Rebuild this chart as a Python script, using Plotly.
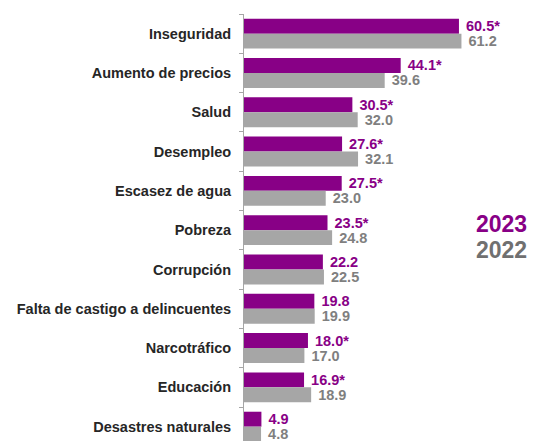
import plotly.graph_objects as go

categories = ["Inseguridad", "Aumento de precios", "Salud", "Desempleo", "Escasez de agua",
              "Pobreza", "Corrupción", "Falta de castigo a delincuentes", "Narcotráfico",
              "Educación", "Desastres naturales"]
values_2023 = [60.5, 44.1, 30.5, 27.6, 27.5, 23.5, 22.2, 19.8, 18.0, 16.9, 4.9]
labels_2023 = ["60.5*", "44.1*", "30.5*", "27.6*", "27.5*", "23.5*", "22.2", "19.8", "18.0*", "16.9*", "4.9"]
values_2022 = [61.2, 39.6, 32.0, 32.1, 23.0, 24.8, 22.5, 19.9, 17.0, 18.9, 4.8]
labels_2022 = ["61.2", "39.6", "32.0", "32.1", "23.0", "24.8", "22.5", "19.9", "17.0", "18.9", "4.8"]

PURPLE = "#880086"
GRAY_BAR = "#A6A6A6"
GRAY_TXT = "#7F7F7F"
FONT = "Liberation Sans, Arial, sans-serif"

fig = go.Figure()
fig.add_trace(go.Bar(
    y=categories, x=values_2023, orientation="h", name="2023",
    marker=dict(color=PURPLE, line=dict(width=0)),
    text=labels_2023, texttemplate=" %{text}", textposition="outside",
    textfont=dict(color=PURPLE, size=14.5, family=FONT, weight="bold"),
    constraintext="none", cliponaxis=False,
))
fig.add_trace(go.Bar(
    y=categories, x=values_2022, orientation="h", name="2022",
    marker=dict(color=GRAY_BAR, line=dict(width=0)),
    text=labels_2022, texttemplate=" %{text}", textposition="outside",
    textfont=dict(color=GRAY_TXT, size=14.5, family=FONT, weight="bold"),
    constraintext="none", cliponaxis=False,
))

fig.update_layout(
    width=535, height=441,
    margin=dict(l=244, r=0, t=14, b=0),
    barmode="group", bargap=0.24, bargroupgap=0,
    paper_bgcolor="white", plot_bgcolor="white",
    showlegend=False,
    font=dict(family=FONT),
    xaxis=dict(range=[0, 81.9], visible=False, fixedrange=True),
    yaxis=dict(
        type="category", range=[10.365, -0.5],
        showline=True, linecolor="#A6A6A6", linewidth=1,
        ticks="outside", ticklen=4, tickcolor="#A6A6A6", tickson="boundaries",
        tickfont=dict(size=14.5, color="#262626", family=FONT, weight="bold"),
        ticklabelstandoff=9, showgrid=False, zeroline=False,
    ),
    annotations=[
        dict(text="2023", xref="paper", yref="paper", x=1, y=(441 - 224) / 427,
             xanchor="right", yanchor="middle", xshift=-6, showarrow=False,
             font=dict(size=23, color=PURPLE, family=FONT, weight="bold")),
        dict(text="2022", xref="paper", yref="paper", x=1, y=(441 - 250) / 427,
             xanchor="right", yanchor="middle", xshift=-6, showarrow=False,
             font=dict(size=23, color="#707070", family=FONT, weight="bold")),
    ],
)

fig.write_html("out.html", config={"displayModeBar": False},
               post_script="document.body.style.margin='0';document.body.style.overflow='hidden';")
